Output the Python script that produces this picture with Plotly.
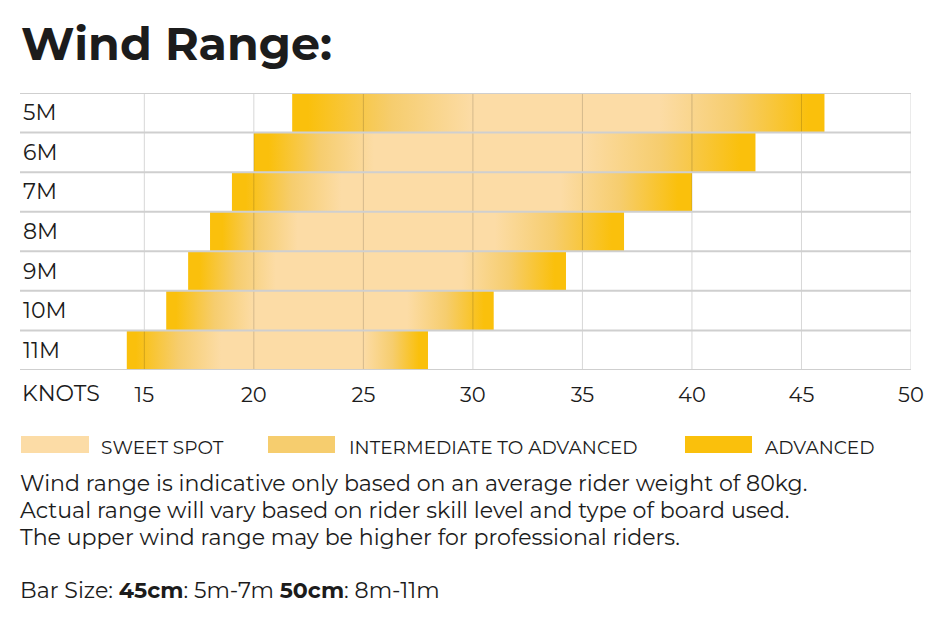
import plotly.graph_objects as go

# ---- data ----
kites = ["5M", "6M", "7M", "8M", "9M", "10M", "11M"]
low_wind = [21.75, 20.0, 19.0, 18.0, 17.0, 16.0, 14.2]
high_wind = [46.05, 42.9, 40.0, 36.9, 34.25, 30.95, 27.95]
sweet_lo = [30.0, 25.5, 24.0, 22.0, 21.0, 20.0, 18.5]
sweet_hi = [38.5, 35.0, 34.0, 31.0, 29.5, 27.0, 25.0]
x_ticks = [15, 20, 25, 30, 35, 40, 45, 50]
legend_labels = ["SWEET SPOT", "INTERMEDIATE TO ADVANCED", "ADVANCED"]

SWEET = "#FCDCA6"
INTER = "#F6CD6E"
ADV = "#FAC00C"
TXT = "#1c1c1c"
FONT = "Montserrat, Open Sans, sans-serif"

W, H = 946, 620
OFF = 8  # page body margin
L, R, T, B = 20 - OFF, 911 - OFF, 93 - OFF, 370 - OFF  # plot area in figure px


def px(x):
    return (x - OFF - L) / (R - L)


def py(y):
    return (B - (y - OFF)) / (B - T)


fig = go.Figure()

for i, name in enumerate(kites):
    lo, hi = low_wind[i], high_wind[i]
    span = hi - lo
    s0 = (sweet_lo[i] - lo) / span
    s1 = (sweet_hi[i] - lo) / span
    cs = [
        [0.0, ADV],
        [0.03, ADV],
        [s0 * 0.55, INTER],
        [s0, SWEET],
        [s1, SWEET],
        [s1 + (1 - s1) * 0.45, INTER],
        [0.97, ADV],
        [1.0, ADV],
    ]
    fig.add_trace(go.Scatter(
        x=[lo, hi, hi, lo, lo],
        y=[i - 0.5, i - 0.5, i + 0.5, i + 0.5, i - 0.5],
        mode="lines",
        line=dict(width=0),
        fill="toself",
        fillgradient=dict(type="horizontal", colorscale=cs),
        showlegend=False,
        hoverinfo="skip",
    ))

shapes = []
# vertical grid lines above bars
for t in x_ticks:
    shapes.append(dict(type="line", xref="x", yref="paper", x0=t, x1=t, y0=0, y1=1,
                       line=dict(color="rgba(0,0,0,0.16)", width=1), layer="above"))
# horizontal row lines
for k in range(len(kites) + 1):
    shapes.append(dict(type="line", xref="paper", yref="y", x0=0, x1=1,
                       y0=k - 0.5, y1=k - 0.5,
                       line=dict(color="#cfcfcf", width=2), layer="above"))

# legend swatches
sw = [(21, 89), (268, 335), (685, 752)]
cols = [SWEET, INTER, ADV]
lab_x = [99, 347, 763]
annotations = []
for (a, b), c, lx, lab in zip(sw, cols, lab_x, legend_labels):
    shapes.append(dict(type="rect", xref="paper", yref="paper", x0=px(a), x1=px(b),
                       y0=py(453), y1=py(436), fillcolor=c, line=dict(width=0)))
    annotations.append(dict(x=px(lx), y=py(447), xref="paper", yref="paper",
                            text=lab, showarrow=False, xanchor="left", yanchor="middle",
                            font=dict(size=18.5, color=TXT, family=FONT)))

# category labels
for i, name in enumerate(kites):
    annotations.append(dict(x=px(21), y=i, xref="paper", yref="y", text=name,
                            showarrow=False, xanchor="left", yanchor="middle",
                            font=dict(size=22, color=TXT, family=FONT)))

annotations.append(dict(x=px(20), y=py(393), xref="paper", yref="paper", text="KNOTS",
                        showarrow=False, xanchor="left", yanchor="middle",
                        font=dict(size=22, color=TXT, family=FONT)))

annotations.append(dict(x=px(19), y=py(44), xref="paper", yref="paper",
                        text="<b>Wind Range:</b>", showarrow=False,
                        xanchor="left", yanchor="middle",
                        font=dict(size=46, color=TXT, family=FONT)))

notes = [
    (483, "Wind range is indicative only based on an average rider weight of 80kg."),
    (510, "Actual range will vary based on rider skill level and type of board used."),
    (537, "The upper wind range may be higher for professional riders."),
    (590, "Bar Size: <b>45cm</b>: 5m-7m <b>50cm</b>: 8m-11m"),
]
for yy, t in notes:
    annotations.append(dict(x=px(18), y=py(yy), xref="paper", yref="paper", text=t,
                            showarrow=False, xanchor="left", yanchor="middle",
                            font=dict(size=22.1, color=TXT, family=FONT)))

fig.update_layout(
    width=W, height=H,
    margin=dict(l=L, r=W - R, t=T, b=H - B),
    paper_bgcolor="white", plot_bgcolor="white",
    shapes=shapes, annotations=annotations,
    xaxis=dict(range=[20 - (254 - 20) / 21.92, 50], tickvals=x_ticks,
               showgrid=False, zeroline=False, showline=False, ticks="",
               tickfont=dict(size=21, color=TXT, family=FONT),
               ticklabelstandoff=10, fixedrange=True),
    yaxis=dict(range=[len(kites) - 0.5, -0.5], showticklabels=False, showgrid=False,
               zeroline=False, showline=False, fixedrange=True),
    showlegend=False,
)

fig.write_html("out.html")
